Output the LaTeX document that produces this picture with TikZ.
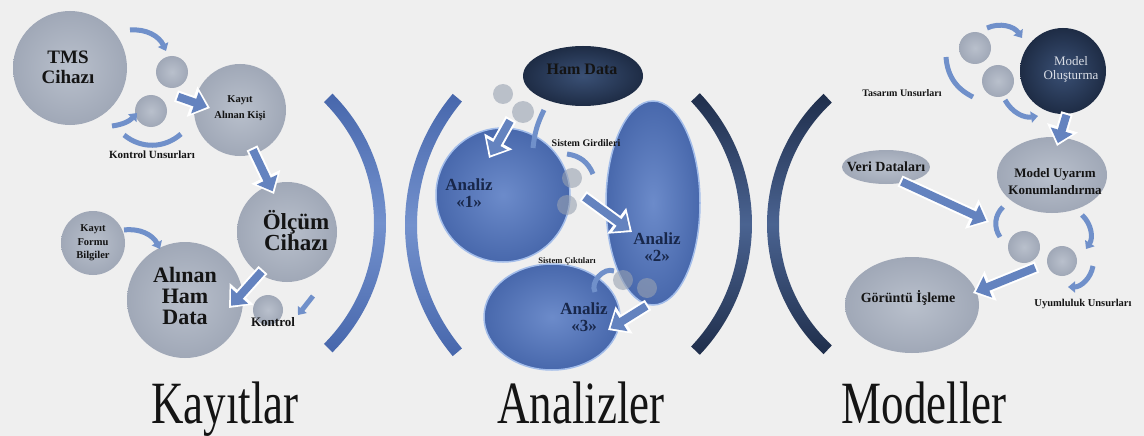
\documentclass[tikz,border=0pt]{standalone}
\usepackage{fontspec}
\setmainfont{Liberation Serif}
\usepackage{tikz}
\usetikzlibrary{shapes.geometric,arrows.meta}

\definecolor{bgcol}{HTML}{EFEFEF}
\definecolor{ballLight}{HTML}{B9C0CC}
\definecolor{ballDark}{HTML}{A0A8B7}
\definecolor{glassGray}{HTML}{98A1B1}
\definecolor{blueLight}{HTML}{6C8BCA}
\definecolor{blueDark}{HTML}{4868AC}
\definecolor{blueRim}{HTML}{A3BDEA}
\definecolor{navyLight}{HTML}{3A5075}
\definecolor{navyDark}{HTML}{1E2C45}
\definecolor{arcLight}{HTML}{7391CD}
\definecolor{arcDark}{HTML}{4767AC}
\definecolor{arcNavy}{HTML}{1F2E4B}
\definecolor{arcNavyLight}{HTML}{4A6391}
\definecolor{arrowBlue}{HTML}{6483BF}
\definecolor{bandBlue}{HTML}{7090CA}
\definecolor{textDark}{HTML}{141414}
\definecolor{textNavy}{HTML}{18274A}
\definecolor{textPale}{HTML}{DADEE6}

\tikzset{
  ball/.style={circle, inner sep=0pt, inner color=ballLight, outer color=ballDark},
  blueball/.style={circle, inner sep=0pt, draw=blueRim, line width=1.5pt, inner color=blueLight, outer color=blueDark},
  navyball/.style={circle, inner sep=0pt, inner color=navyLight, outer color=navyDark},
  glassball/.style={circle, inner sep=0pt, minimum size=20pt, fill=glassGray, fill opacity=0.6},
  fatarrow/.style={draw=arrowBlue, line width=8pt, shorten >=3pt, shorten <=2pt,
    -{Triangle[width=22pt,length=13pt]},
    preaction={draw=white, line width=12pt, shorten >=0pt, shorten <=0pt,
      -{Triangle[width=31pt,length=19pt]}}},
  bandarrow/.style={draw=bandBlue, line width=5pt, -{Triangle[width=11pt,length=7pt]}},
  band/.style={draw=bandBlue, line width=5pt},
  lbl/.style={align=center, text=textDark},
  title/.style={anchor=base, text=textDark, font=\fontsize{60}{60}\selectfont}
}

\begin{document}
\begin{tikzpicture}[x=1pt, y=1pt]
        \useasboundingbox (0,0) rectangle (1144,-436);
        \fill [bgcol] (0,0) rectangle (1144,-436);

        %Brackets
        \shade [top color=arcDark, bottom color=arcDark, middle color=arcLight]
          (203,-223) ++(45:183) arc [start angle=45, end angle=-45, radius=183]
          -- ++(-45:-12) arc [start angle=-45, end angle=45, radius=171] -- cycle;
        \shade [top color=arcDark, bottom color=arcDark, middle color=arcLight]
          (609,-225) ++(140:204) arc [start angle=140, end angle=220, radius=204]
          -- ++(220:-12) arc [start angle=220, end angle=140, radius=192] -- cycle;
        \shade [top color=arcNavy, bottom color=arcNavy, middle color=arcNavyLight]
          (562,-224) ++(43.5:190) arc [start angle=43.5, end angle=-43.5, radius=190]
          -- ++(-43.5:-12) arc [start angle=-43.5, end angle=43.5, radius=178] -- cycle;
        \shade [top color=arcNavy, bottom color=arcNavy, middle color=arcNavyLight]
          (945,-224) ++(133:178) arc [start angle=133, end angle=227, radius=178]
          -- ++(227:-12) arc [start angle=227, end angle=133, radius=166] -- cycle;

        %Kayitlar
        \node [ball, minimum size=114pt] (tms) at (70,-68) {};
        \node [ball, minimum size=32pt] (k1) at (172,-72) {};
        \node [ball, minimum size=32pt] (k2) at (151,-111) {};
        \node [ball, minimum size=92pt] (kisi) at (240,-110) {};
        \node [ball, minimum size=100pt] (olcum) at (287,-232) {};
        \node [ball, minimum size=64pt] (form) at (93,-243) {};
        \node [ball, minimum size=116pt] (alinan) at (185,-300) {};
        \node [ball, minimum size=30pt] (kontrol) at (268,-310) {};

        \node [lbl, font=\bfseries\fontsize{19}{20}\selectfont] (tmsText) at (68,-67) {TMS\\Cihazı};
        \node [lbl, font=\bfseries\fontsize{10.5}{16}\selectfont] (kisiText) at (240,-108) {Kayıt\\Alınan Kişi};
        \node [lbl, font=\bfseries\fontsize{23}{21}\selectfont] (olcumText) at (296,-231) {Ölçüm\\Cihazı};
        \node [lbl, font=\bfseries\fontsize{10.5}{13.5}\selectfont] (formText) at (93,-243) {Kayıt\\Formu\\Bilgiler};
        \node [lbl, font=\bfseries\fontsize{22}{21}\selectfont] (alinanText) at (185,-296) {Alınan\\Ham\\Data};
        \node [lbl, font=\bfseries\fontsize{11}{11}\selectfont] (unsurText) at (152,-155) {Kontrol Unsurları};
        \node [lbl, font=\bfseries\fontsize{13}{13}\selectfont] (kontrolText) at (273,-322) {Kontrol};

        \coordinate (kA0) at (130,-30);  \coordinate (kA1) at (166,-51);
        \coordinate (kB0) at (112,-126); \coordinate (kB1) at (137,-113);
        \coordinate (kC0) at (124,-135); \coordinate (kC1) at (181,-134);
        \coordinate (kD0) at (176,-96);  \coordinate (kD1) at (210,-108);
        \coordinate (kE0) at (252,-148); \coordinate (kE1) at (274,-194);
        \coordinate (kF0) at (263,-270); \coordinate (kF1) at (229,-308);
        \coordinate (kG0) at (313,-296); \coordinate (kG1) at (298,-315);
        \coordinate (kH0) at (124,-230); \coordinate (kH1) at (160,-249);
        \draw [bandarrow] (kA0) to [bend left=35] (kA1);
        \draw [bandarrow] (kB0) to [bend right=20] (kB1);
        \draw [band] (kC0) to [bend right=40] (kC1);
        \draw [bandarrow] (kH0) to [bend left=35] (kH1);
        \draw [bandarrow] (kG0) -- (kG1);
        \draw [fatarrow] (kD0) -- (kD1);
        \draw [fatarrow] (kE0) -- (kE1);
        \draw [fatarrow] (kF0) -- (kF1);

        %Analizler
        \node [navyball, ellipse, minimum width=120pt, minimum height=60pt] (ham) at (583,-76) {};
        \node [blueball, minimum size=134pt] (analiz1) at (503,-195) {};
        \node [blueball, ellipse, minimum width=94pt, minimum height=204pt] (analiz2) at (653,-203) {};
        \node [blueball, ellipse, minimum width=136pt, minimum height=106pt] (analiz3) at (552,-317) {};
        \node [glassball] (g1) at (503,-94) {};
        \node [glassball, minimum size=22pt] (g2) at (523,-112) {};
        \node [glassball] (g3) at (572,-178) {};
        \node [glassball] (g4) at (567,-205) {};
        \node [glassball] (g5) at (623,-280) {};
        \node [glassball] (g6) at (647,-288) {};

        \node [lbl, font=\bfseries\fontsize{16}{16}\selectfont] (hamText) at (582,-69) {Ham Data};
        \node [lbl, text=textNavy, font=\bfseries\fontsize{17}{17}\selectfont] (analiz1Text) at (469,-193) {Analiz\\«1»};
        \node [lbl, text=textNavy, font=\bfseries\fontsize{17}{17}\selectfont] (analiz2Text) at (657,-247) {Analiz\\«2»};
        \node [lbl, text=textNavy, font=\bfseries\fontsize{17}{17}\selectfont] (analiz3Text) at (584,-317) {Analiz\\«3»};
        \node [lbl, font=\bfseries\fontsize{10}{10}\selectfont] (girdiText) at (586,-143) {Sistem Girdileri};
        \node [lbl, font=\bfseries\fontsize{8.5}{8.5}\selectfont] (ciktiText) at (567,-261) {Sistem Çıktıları};

        \coordinate (aA0) at (511,-119); \coordinate (aA1) at (489,-158);
        \coordinate (aB0) at (583,-196); \coordinate (aB1) at (632,-232);
        \coordinate (aC0) at (648,-305); \coordinate (aC1) at (608,-330);
        \coordinate (aD0) at (544,-110); \coordinate (aD1) at (533,-148);
        \coordinate (aE0) at (567,-154); \coordinate (aE1) at (593,-174);
        \coordinate (aF0) at (595,-292); \coordinate (aF1) at (614,-271);
        \draw [band] (aD0) to [bend right=10] (aD1);
        \draw [band] (aE0) to [bend left=30] (aE1);
        \draw [band] (aF0) to [bend left=70] (aF1);
        \draw [fatarrow] (aA0) -- (aA1);
        \draw [fatarrow] (aB0) -- (aB1);
        \draw [fatarrow] (aC0) -- (aC1);

        %Modeller
        \node [ball, minimum size=32pt] (m1) at (975,-48) {};
        \node [ball, minimum size=32pt] (m2) at (998,-81) {};
        \node [navyball, minimum size=86pt] (model) at (1063,-71) {};
        \node [ball, ellipse, minimum width=110pt, minimum height=76pt] (konum) at (1052,-175) {};
        \node [ball, ellipse, minimum width=88pt, minimum height=34pt] (veri) at (886,-167) {};
        \node [ball, minimum size=32pt] (m3) at (1024,-247) {};
        \node [ball, minimum size=30pt] (m4) at (1062,-261) {};
        \node [ball, ellipse, minimum width=134pt, minimum height=96pt] (goruntu) at (912,-305) {};

        \node [lbl, text=textPale, font=\fontsize{13}{14}\selectfont] (modelText) at (1071,-69) {Model\\Oluşturma};
        \node [lbl, font=\bfseries\fontsize{13}{17}\selectfont] (konumText) at (1055,-182) {Model Uyarım\\Konumlandırma};
        \node [lbl, font=\bfseries\fontsize{14}{14}\selectfont] (veriText) at (886,-167) {Veri Dataları};
        \node [lbl, font=\bfseries\fontsize{14}{14}\selectfont] (goruntuText) at (908,-298) {Görüntü İşleme};
        \node [lbl, font=\bfseries\fontsize{10}{10}\selectfont] (tasarimText) at (902,-93) {Tasarım Unsurları};
        \node [lbl, font=\bfseries\fontsize{10.5}{10.5}\selectfont] (uyumText) at (1083,-304) {Uyumluluk Unsurları};

        \coordinate (mA0) at (987,-28);   \coordinate (mA1) at (1022,-38);
        \coordinate (mB0) at (946,-57);   \coordinate (mB1) at (973,-97);
        \coordinate (mC0) at (1005,-100); \coordinate (mC1) at (1038,-116);
        \coordinate (mD0) at (1067,-113); \coordinate (mD1) at (1057,-146);
        \coordinate (mE0) at (900,-181);  \coordinate (mE1) at (989,-222);
        \coordinate (mF0) at (1003,-207); \coordinate (mF1) at (1000,-237);
        \coordinate (mG0) at (1082,-215); \coordinate (mG1) at (1086,-249);
        \coordinate (mH0) at (1093,-266); \coordinate (mH1) at (1068,-287);
        \coordinate (mI0) at (1037,-267); \coordinate (mI1) at (973,-293);
        \draw [bandarrow] (mA0) to [bend left=40] (mA1);
        \draw [band] (mB0) to [bend right=30] (mB1);
        \draw [bandarrow] (mC0) to [bend right=35] (mC1);
        \draw [band] (mF0) to [bend right=40] (mF1);
        \draw [bandarrow] (mG0) to [bend left=40] (mG1);
        \draw [bandarrow] (mH0) to [bend left=40] (mH1);
        \draw [fatarrow] (mD0) -- (mD1);
        \draw [fatarrow] (mE0) -- (mE1);
        \draw [fatarrow] (mI0) -- (mI1);

        %Titles
        \node [title] (kayitlar) at (225,-423) {\scalebox{0.75}[1]{Kayıtlar}};
        \node [title] (analizler) at (581,-423) {\scalebox{0.75}[1]{Analizler}};
        \node [title] (modeller) at (924,-423) {\scalebox{0.75}[1]{Modeller}};
\end{tikzpicture}
\end{document}
